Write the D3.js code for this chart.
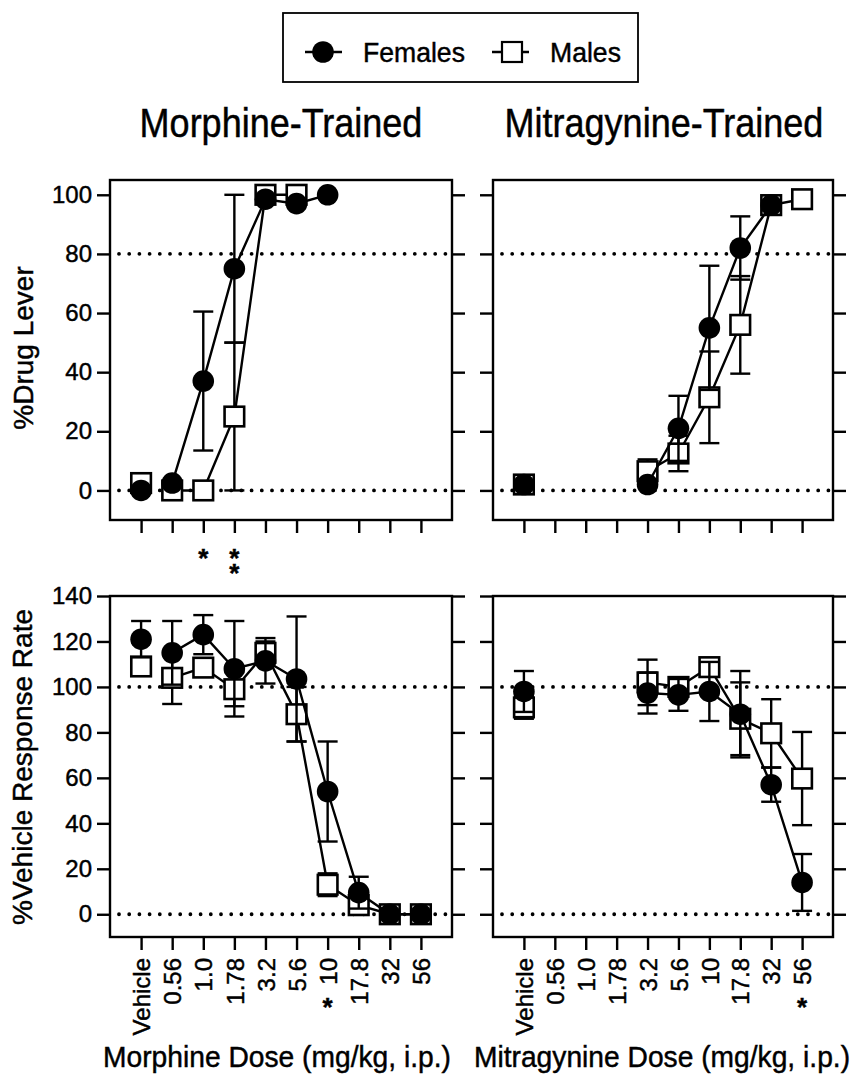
<!DOCTYPE html>
<html><head><meta charset="utf-8">
<script src="https://cdn.jsdelivr.net/npm/d3@7"></script>
<style>
body{margin:0;background:#fff}
svg{display:block}
text{font-family:"Liberation Sans",Arial,Helvetica,sans-serif;fill:#000;stroke:#000;stroke-width:0.45px}
</style>
</head><body>
<svg id="c" width="855" height="1080"></svg>
<script>
// ---------- data ----------
const doses = ["Vehicle","0.56","1.0","1.78","3.2","5.6","10","17.8","32","56"];
const leverTicks = [0,20,40,60,80,100];
const rateTicks = [0,20,40,60,80,100,120,140];

// Morphine-trained, %Drug Lever
const femMorLever    = [0, 2.5, 37, 75, 98.5, 97, 100, null, null, null];
const femMorLeverErr = [0, 0, 23.5, 25, 0, 0, 0, 0, 0, 0];
const maleMorLever   = [2.5, 0, 0, 25, 100, 100, null, null, null, null];
const maleMorLeverErr= [0, 0, 0, 25, 0, 0, 0, 0, 0, 0];

// Mitragynine-trained, %Drug Lever
const femMitLever    = [2, null, null, null, 2, 21, 55, 82, 96.5, null];
const femMitLeverErr = [0, 0, 0, 0, 0, 11, 21, 10.7, 0, 0];
const maleMitLever   = [2, null, null, null, 6.5, 12.5, 31.5, 56, 96.5, 98.5];
const maleMitLeverErr= [0, 0, 0, 0, 4, 6, 15.5, 16.5, 0, 0];

// Morphine-trained, %Vehicle Response Rate
const femMorRate     = [121, 115, 123, 108, 111.5, 103.5, 54, 9.5, 0, 0];
const femMorRateErr  = [8, 14, 8.6, 21, 10, 27.5, 22, 7, 0, 0];
const maleMorRate    = [109, 104, 108.5, 99, 115, 88, 13, 4, 0, 0];
const maleMorRateErr = [4, 11.5, 3, 7.5, 5, 12, 5, 3, 0, 0];

// Mitragynine-trained, %Vehicle Response Rate
const femMitRate     = [98, null, null, null, 97.3, 96.5, 98, 88, 57, 14];
const femMitRateErr  = [9, 0, 0, 0, 9, 7, 13, 19, 7.5, 12.5];
const maleMitRate    = [91, null, null, null, 102, 100, 108.7, 86, 79.6, 59.7];
const maleMitRateErr = [5, 0, 0, 0, 10, 4, 3.5, 16, 15, 20.5];

// significance marks (dose, count)
const starsMorLever = [["1.0",1],["1.78",2]];
const starsMorRate  = [["10",1]];
const starsMitRate  = [["56",1]];

// ---------- drawing ----------
const svg = d3.select("#c");
const FONT = '"Liberation Sans",Arial,Helvetica,sans-serif';
const SW = 2.4;

function txt(g, s, x, y, opts={}) {
  const t = g.append("text").text(s)
    .attr("transform", `translate(${x},${y}) rotate(${opts.rot||0}) scale(${opts.sx||1},1)`)
    .attr("font-size", opts.size||24)
    .attr("text-anchor", opts.anchor||"middle");
  if (opts.weight) t.attr("font-weight", opts.weight);
  return t;
}

const cols = [{x0:110,x1:452},{x0:493,x1:833}];
const rows = [{y0:180,y1:520,dom:[-10,105],ticks:leverTicks,refs:[80,0]},
              {y0:596,y1:937,dom:[-10,140],ticks:rateTicks,refs:[100,0]}];

const panels = [
  {c:0,r:0,fem:femMorLever,femE:femMorLeverErr,male:maleMorLever,maleE:maleMorLeverErr,stars:starsMorLever,yLabels:true,xLabels:false},
  {c:1,r:0,fem:femMitLever,femE:femMitLeverErr,male:maleMitLever,maleE:maleMitLeverErr,stars:[],yLabels:false,xLabels:false},
  {c:0,r:1,fem:femMorRate,femE:femMorRateErr,male:maleMorRate,maleE:maleMorRateErr,stars:starsMorRate,yLabels:true,xLabels:true},
  {c:1,r:1,fem:femMitRate,femE:femMitRateErr,male:maleMitRate,maleE:maleMitRateErr,stars:starsMitRate,yLabels:false,xLabels:true},
];

panels.forEach(p => {
  const C = cols[p.c], R = rows[p.r];
  const x = d3.scalePoint().domain(doses).range([C.x0, C.x1]).padding(1);
  const y = d3.scaleLinear().domain(R.dom).range([R.y1, R.y0]);
  const g = svg.append("g");

  // reference dotted lines
  R.refs.forEach(v => {
    g.append("line").attr("x1", C.x0+9).attr("x2", C.x1-2)
      .attr("y1", y(v)).attr("y2", y(v))
      .attr("stroke","#000").attr("stroke-width",3.8)
      .attr("stroke-linecap","round").attr("stroke-dasharray","0 10.2");
  });

  const la = g.append("g").attr("transform",`translate(${C.x0},0)`)
    .call(d3.axisLeft(y).tickValues(R.ticks).tickSize(13).tickPadding(5)
      .tickFormat(p.yLabels ? d3.format("d") : ""));
  const ra = g.append("g").attr("transform",`translate(${C.x1},0)`)
    .call(d3.axisRight(y).tickValues(R.ticks).tickSize(13).tickFormat(""));
  const ba = g.append("g").attr("transform",`translate(0,${R.y1})`)
    .call(d3.axisBottom(x).tickSize(13).tickPadding(8).tickFormat(p.xLabels ? (d=>d) : ""));
  [la,ra,ba].forEach(a => {
    a.select(".domain").remove();
    a.selectAll(".tick line").attr("stroke","#000").attr("stroke-width",SW);
    a.selectAll("text").attr("font-family",FONT).attr("fill","#000");
  });
  la.selectAll("text").attr("font-size",24);
  if (p.xLabels) {
    ba.selectAll("text").attr("font-size",24)
      .attr("y",0).attr("x",-21).attr("dy","0.36em")
      .attr("transform","rotate(-90)").attr("text-anchor","end");
  }

  g.append("rect").attr("x",C.x0).attr("y",R.y0)
    .attr("width",C.x1-C.x0).attr("height",R.y1-R.y0)
    .attr("fill","none").attr("stroke","#000").attr("stroke-width",SW);

  const line = d3.line().defined(d => d.v != null).x(d => x(d.k)).y(d => y(d.v));

  function series(vals, errs, shape) {
    const data = doses.map((k,i) => ({k, v: vals[i], e: errs[i], i}));
    const sg = g.append("g");
    sg.append("path").datum(data.filter(d => d.i > 0))
      .attr("d", line).attr("fill","none").attr("stroke","#000").attr("stroke-width",SW);
    data.filter(d => d.v != null && d.e > 0).forEach(d => {
      const cx = x(d.k), ya = y(d.v - d.e), yb = y(d.v + d.e);
      sg.append("line").attr("x1",cx).attr("x2",cx).attr("y1",ya).attr("y2",yb)
        .attr("stroke","#000").attr("stroke-width",SW);
      [ya,yb].forEach(yy => sg.append("line").attr("x1",cx-10).attr("x2",cx+10)
        .attr("y1",yy).attr("y2",yy).attr("stroke","#000").attr("stroke-width",SW));
    });
    const pts = data.filter(d => d.v != null);
    if (shape === "circle") {
      sg.selectAll("circle").data(pts).join("circle")
        .attr("cx", d => x(d.k)).attr("cy", d => y(d.v)).attr("r",10.8).attr("fill","#000");
    } else {
      sg.selectAll("rect").data(pts).join("rect")
        .attr("x", d => x(d.k)-9.8).attr("y", d => y(d.v)-9.8)
        .attr("width",19.6).attr("height",19.6)
        .attr("fill","#fff").attr("stroke","#000").attr("stroke-width",2.6);
    }
  }
  series(p.male, p.maleE, "square");
  series(p.fem, p.femE, "circle");

  p.stars.forEach(([k,n]) => {
    for (let j=0;j<n;j++) {
      const cy = p.r === 0 ? 553 + j*15 : 1002;
      txt(g, "*", x(k), cy + 14, {size:26, weight:"bold"});
    }
  });
});

// panel titles
txt(svg, "Morphine-Trained", 281, 137, {size:40, sx:0.9});
txt(svg, "Mitragynine-Trained", 664, 137, {size:40, sx:0.9});

// axis titles
txt(svg, "%Drug Lever", 33, 348, {size:28, rot:-90});
txt(svg, "%Vehicle Response Rate", 32, 767, {size:28, rot:-90});
txt(svg, "Morphine Dose (mg/kg, i.p.)", 277, 1067, {size:30, sx:0.94});
txt(svg, "Mitragynine Dose (mg/kg, i.p.)", 662, 1067, {size:30, sx:0.94});

// legend
const lg = svg.append("g");
lg.append("rect").attr("x",283).attr("y",13).attr("width",355).attr("height",69)
  .attr("fill","#fff").attr("stroke","#000").attr("stroke-width",1.8);
lg.append("line").attr("x1",305).attr("x2",342).attr("y1",52).attr("y2",52).attr("stroke","#000").attr("stroke-width",SW);
lg.append("circle").attr("cx",323).attr("cy",52).attr("r",10.8).attr("fill","#000");
txt(lg, "Females", 363, 62, {size:28, sx:0.95, anchor:"start"});
lg.append("line").attr("x1",492).attr("x2",529).attr("y1",52).attr("y2",52).attr("stroke","#000").attr("stroke-width",SW);
lg.append("rect").attr("x",502).attr("y",42).attr("width",20).attr("height",20)
  .attr("fill","#fff").attr("stroke","#000").attr("stroke-width",2.2);
txt(lg, "Males", 550, 62, {size:28, sx:0.95, anchor:"start"});
</script>
</body></html>
